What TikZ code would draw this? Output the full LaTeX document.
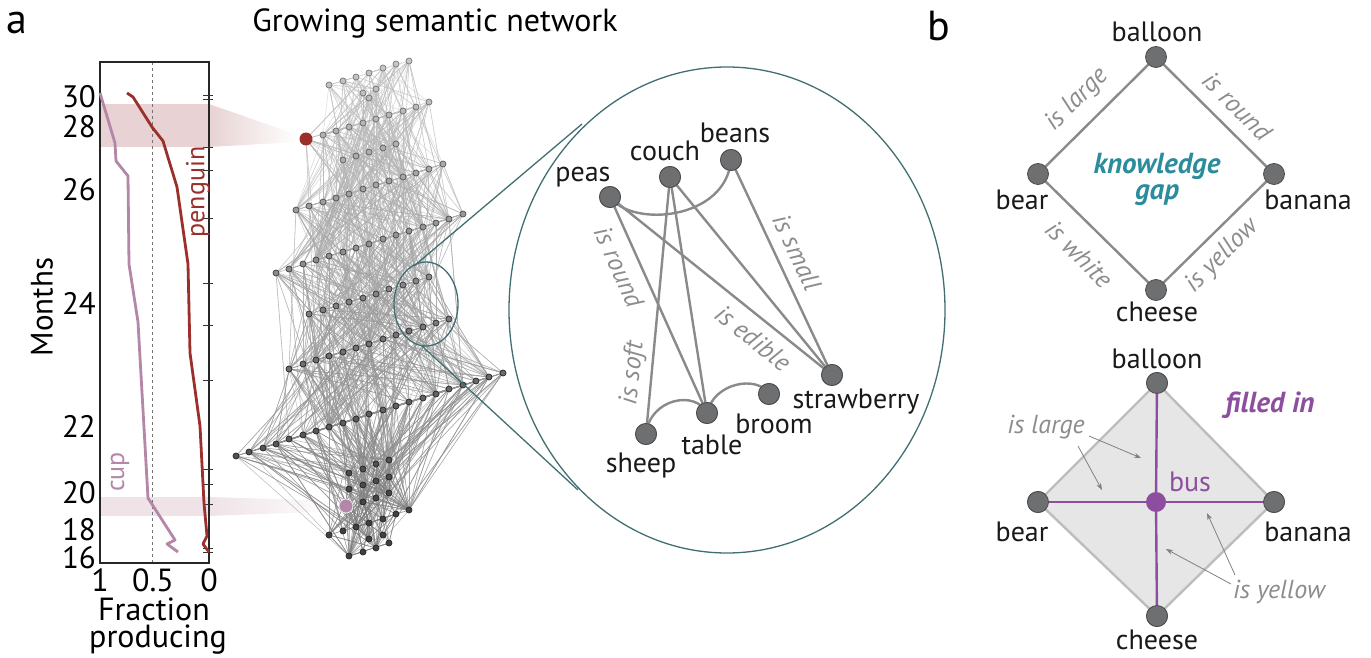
\documentclass[tikz,border=0pt]{standalone}
\usepackage{fontspec}
\setmainfont{PT Sans}
\usetikzlibrary{arrows.meta}
\definecolor{edgegray}{HTML}{8A8A8A}
\definecolor{ngray}{HTML}{6E6F71}
\definecolor{zteal}{HTML}{416F71}
\definecolor{gapteal}{HTML}{2B8C9C}
\definecolor{fpurple}{HTML}{8D4E9F}
\definecolor{pred}{HTML}{9B2F2B}
\definecolor{cpink}{HTML}{B486A8}
\definecolor{bandA}{HTML}{E8D2D3}
\definecolor{bandB}{HTML}{EFE3E8}
\definecolor{diafill}{HTML}{E6E6E6}
\definecolor{diaedge}{HTML}{BDBDBD}
\definecolor{lblgray}{HTML}{8C8C8C}
\tikzset{
  fs/.style={font=\fontsize{#1}{#1}\selectfont},
  word/.style={text=black!90, font=\fontsize{28}{30}\selectfont, inner sep=0pt},
  rel/.style={text=lblgray, font=\fontsize{26}{28}\selectfont\itshape, inner sep=0pt},
  emph/.style={font=\fontsize{29}{29}\selectfont\bfseries\itshape, inner sep=0pt},
  bignode/.style={circle, fill=ngray, draw=black!70, line width=0.8pt, minimum size=21pt, inner sep=0pt},
  relline/.style={draw=edgegray, line width=2.4pt},
  netedge/.style={line width=0.55pt, draw opacity=0.55},
  netnode/.style={circle, minimum size=6pt, inner sep=0pt, line width=0.7pt},
  tick/.style={line width=0.9pt, black!80},
  curve/.style={line width=2.8pt, line join=round},
  callout/.style={draw=gray, line width=0.8pt, -{Stealth[length=7pt,width=5pt]}},
}
\begin{document}
\begin{tikzpicture}[x=1pt,y=-1pt]
\useasboundingbox (0,0) rectangle (1371,658);

% ---------------- panel a: plot ----------------
\node[fs=42, anchor=base west, inner sep=0pt] (la) at (6,34) {a};
\node[fs=32, inner sep=0pt] (title) at (435,24) {Growing semantic network};

\fill[bandA] (100,104) rectangle (209,147);
\shade[left color=bandA, right color=white] (209,104) -- (298,135) -- (298,142) -- (209,147) -- cycle;
\fill[bandB] (100,497) rectangle (209,516);
\shade[left color=bandB, right color=white] (209,497) -- (342,501) -- (342,511) -- (209,516) -- cycle;

\draw[dashed, black!55, line width=0.8pt] (152,62) -- (152,563);
\draw[line width=1.3pt, black!85] (100,62) rectangle (209,563);
\foreach \t in {95,99,147,170,218,283,325,380,469,484,504,548,552}
  \draw[tick] (203,\t) -- (213,\t);

\draw[curve, cpink] (100,93) -- (115,143) -- (116,161) -- (128,176) -- (129,264) -- (138,322) -- (148,498) -- (175,540) -- (167,544) -- (178,552);
\draw[curve, pred] (127,93) -- (133,97) -- (152,127) -- (163,141) -- (177,187) -- (188,264) -- (190,353) -- (200,426) -- (204,503) -- (207,536) -- (203,544) -- (209,552);
\node[rotate=90, text=pred, fs=26, inner sep=0pt] (lpeng) at (198,192) {penguin};
\node[rotate=90, text=cpink, fs=26, inner sep=0pt] (lcup) at (120,472) {cup};

\foreach \v/\yy in {30/97,28/127,26/190,24/303,22/426,20/493,18/530,16/558}
  \node[fs=31, anchor=east, inner sep=0pt] (m\v) at (96,\yy) {\v};
\node[fs=31, rotate=90, inner sep=0pt] (months) at (42,307) {Months};
\node[fs=32, inner sep=0pt] (x1) at (100,580) {1};
\node[fs=32, inner sep=0pt] (x05) at (153,580) {0.5};
\node[fs=32, inner sep=0pt] (x0) at (209,580) {0};
\node[fs=32, inner sep=0pt] (fr) at (154,609) {Fraction};
\node[fs=32, inner sep=0pt] (pr) at (158,640) {producing};

% ---------------- panel a: network ----------------
\def\N{121}
\foreach \x/\y [count=\i] in {
 329/85,343/81,356/77,369/73,383/68,396/64,409/61,363/93,376/89,369/98,
 429/102,416/107,403/111,389/115,376/119,363/123,349/127,336/131,323/135,306/139,
 343/160,356/156,369/152,383/148,396/144,
 443/164,429/169,416/173,403/177,389/181,376/185,363/189,349/194,336/198,323/202,309/206,296/210,
 463/214,449/219,436/223,423/227,409/231,396/235,383/239,369/244,356/248,343/252,329/256,316/260,303/264,289/269,276/273,
 429/277,416/281,403/285,389/289,376/294,363/298,349/302,336/306,323/310,309/314,
 449/319,436/323,423/327,409/331,396/335,383/339,369/344,356/348,343/352,329/356,316/360,303/364,289/369,
 503/373,489/377,476/381,463/385,449/389,436/394,423/398,409/402,396/406,383/410,369/414,356/419,343/423,329/427,316/431,303/435,289/439,276/444,263/448,249/452,236/456,
 389/460,376/464,363/469,349/473,389/477,376/481,363/485,349/489,389/493,376/498,363/502,346/506,409/510,396/514,383/519,369/523,356/527,343/531,329/535,383/535,369/539,389/543,376/548,363/552,349/556}
  {\coordinate (n\i) at (\x,\y);}

\foreach \i in {1,...,120} {
  \pgfmathtruncatemacro\g{24+30*\i/\N}
  \foreach \k in {1,...,22} {
    \pgfmathtruncatemacro\j{\i+1+mod(\k*\k*7+\i*11+\k*\i,40)}
    \ifnum\j>\N\relax\else
      \draw[netedge, draw=black!\g] (n\i) -- (n\j);
    \fi
  }
}

\foreach \i in {1,...,\N} {
  \path (n\i); \pgfgetlastxy{\px}{\py}
  \pgfmathtruncatemacro\f{min(75,max(22,22+(-\py/1pt-60)*0.117))}
  \pgfmathtruncatemacro\d{min(85,\f+30)}
  \node[netnode, fill=black!\f, draw=black!\d] (v\i) at (n\i) {};
}
\node[circle, fill=pred, minimum size=13pt, inner sep=0pt] (red) at (n20) {};
\node[circle, fill=cpink, draw=white!80!cpink, line width=0.8pt, minimum size=14pt, inner sep=0pt] (pink) at (n108) {};

% zoom circles
\draw[zteal, line width=1.3pt] (426,304) ellipse [x radius=32pt, y radius=42pt];
\coordinate (zs1) at (414,266);
\coordinate (zs2) at (422,346);
\coordinate (zb1) at (582,124);
\coordinate (zb2) at (578,490);
\draw[zteal, line width=1.3pt] (zs1) -- (zb1);
\draw[zteal, line width=1.3pt] (zs2) -- (zb2);
\draw[zteal, line width=1.3pt] (727,310) ellipse [x radius=218pt, y radius=243pt];

% inner graph
\node[bignode] (peas) at (610,197) {};
\node[bignode] (couch) at (670,177) {};
\node[bignode] (beans) at (731,160) {};
\node[bignode] (straw) at (832,375) {};
\node[bignode] (broom) at (769,394) {};
\node[bignode] (table) at (707,413) {};
\node[bignode] (sheep) at (646,434) {};
\draw[relline] (peas.center) .. controls (632,228) and (726,220) .. (beans.center);
\draw[relline] (peas.center) -- (table.center);
\draw[relline] (peas.center) -- (straw.center);
\draw[relline] (couch.center) -- (sheep.center);
\draw[relline] (couch.center) -- (table.center);
\draw[relline] (couch.center) -- (straw.center);
\draw[relline] (beans.center) -- (straw.center);
\draw[relline] (sheep.center) .. controls (650,398) and (696,390) .. (table.center);
\draw[relline] (table.center) .. controls (714,382) and (758,375) .. (broom.center);
\foreach \n in {peas,couch,beans,straw,broom,table,sheep}
  \node[bignode] at (\n) {};

\node[word] (tpeas) at (583,177) {peas};
\node[word] (tcouch) at (665,151) {couch};
\node[word] (tbeans) at (735,133) {beans};
\node[word] (tstraw) at (856,402) {strawberry};
\node[word] (tbroom) at (774,424) {broom};
\node[word] (ttable) at (712,445) {table};
\node[word] (tsheep) at (641,465) {sheep};

\node[rel, rotate=-65.8] (rround) at (619,267) {is round};
\node[rel, rotate=84] (rsoft) at (633,373) {is soft};
\node[rel, rotate=-38.7] (redible) at (753,338) {is edible};
\node[rel, rotate=-64.8] (rsmall) at (797,252) {is small};

% ---------------- panel b ----------------
\node[fs=42, anchor=base west, inner sep=0pt] (lb) at (927,41) {b};

% top diamond
\node[bignode] (bal1) at (1156,57) {};
\node[bignode] (bear1) at (1038,174) {};
\node[bignode] (ban1) at (1274,174) {};
\node[bignode] (che1) at (1156,290) {};
\draw[relline] (bal1) -- (bear1);
\draw[relline] (bal1) -- (ban1);
\draw[relline] (che1) -- (bear1);
\draw[relline] (che1) -- (ban1);
\node[word] (tbal1) at (1157,32) {balloon};
\node[word] (tbear1) at (1022,200) {bear};
\node[word] (tban1) at (1308,200) {banana};
\node[word] (tche1) at (1157,312) {cheese};
\node[emph, text=gapteal] (kg1) at (1157,166) {knowledge};
\node[emph, text=gapteal] (kg2) at (1157,195) {gap};
\node[rel, rotate=45] (r1) at (1077,100) {is large};
\node[rel, rotate=-45] (r2) at (1237,106) {is round};
\node[rel, rotate=-45] (r3) at (1079,254) {is white};
\node[rel, rotate=45] (r4) at (1222,256) {is yellow};

% bottom diamond
\node[bignode] (bal2) at (1157,383) {};
\node[bignode] (bear2) at (1038,502) {};
\node[bignode] (ban2) at (1274,502) {};
\node[bignode] (che2) at (1157,616) {};
\filldraw[fill=diafill, draw=diaedge, line width=2.4pt, line join=round] (bal2.center) -- (ban2.center) -- (che2.center) -- (bear2.center) -- cycle;
\node[circle, fill=fpurple, minimum size=20pt, inner sep=0pt] (bus) at (1156,502) {};
\draw[fpurple, line width=2.4pt] (bal2.center) -- (bus);
\draw[fpurple, line width=2.4pt] (bus) -- (che2.center);
\draw[fpurple, line width=2.4pt] (bear2.center) -- (bus);
\draw[fpurple, line width=2.4pt] (bus) -- (ban2.center);
\foreach \n in {bal2,bear2,ban2,che2}
  \node[bignode] at (\n) {};
\node[word] (tbal2) at (1157,359) {balloon};
\node[word] (tbear2) at (1022,532) {bear};
\node[word] (tban2) at (1308,532) {banana};
\node[word] (tche2) at (1157,640) {cheese};
\node[word, text=fpurple] (tbus) at (1190,482) {bus};
\node[emph, text=fpurple] (fill) at (1270,405) {filled in};
\node[rel] (il) at (1046,427) {is large};
\node[rel] (iy) at (1279,592) {is yellow};
\coordinate (a1s) at (1089,436);
\coordinate (a1e) at (1141,458);
\coordinate (a2s) at (1078,446);
\coordinate (a2e) at (1102,490);
\coordinate (a3s) at (1231,584);
\coordinate (a3e) at (1166,549);
\coordinate (a4s) at (1235,575);
\coordinate (a4e) at (1207,513);
\draw[callout] (a1s) -- (a1e);
\draw[callout] (a2s) -- (a2e);
\draw[callout] (a3s) -- (a3e);
\draw[callout] (a4s) -- (a4e);
\end{tikzpicture}
\end{document}
